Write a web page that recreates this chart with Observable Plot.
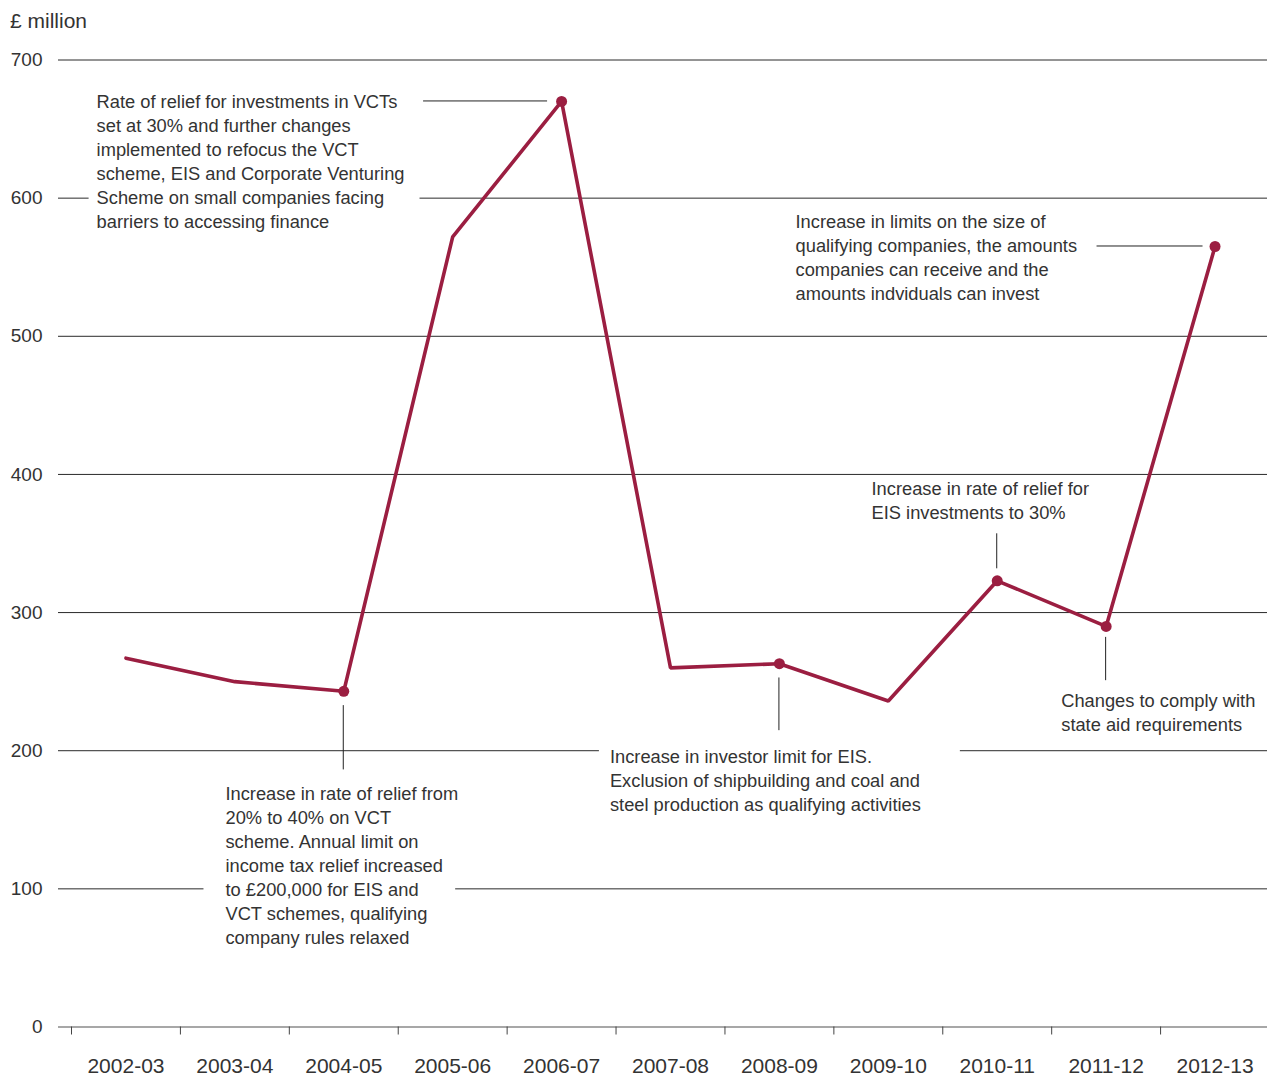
<!DOCTYPE html>
<html>
<head>
<meta charset="utf-8">
<script src="https://cdn.jsdelivr.net/npm/d3@7"></script>
<script src="https://cdn.jsdelivr.net/npm/@observablehq/plot@0.6"></script>
<style>
  html, body { margin: 0; padding: 0; background: #fff; }
  body { font-family: "Liberation Sans", Arial, Helvetica, sans-serif; color: #333; width: 1267px; }
  #title { font-size: 21px; line-height: 20px; padding: 11px 0 0 10px; height: 29px; color: #333; }
</style>
</head>
<body>
<div id="title">£ million</div>
<div id="chart"></div>
<script>
// ---- data ----
const years = ["2002-03", "2003-04", "2004-05", "2005-06", "2006-07", "2007-08", "2008-09", "2009-10", "2010-11", "2011-12", "2012-13"];
const values = [267, 250, 243, 572, 670, 260, 263, 236, 323, 290, 565];
const yTicks = [0, 100, 200, 300, 400, 500, 600, 700];

const noteYears = ["2006-07", "2012-13", "2010-11", "2011-12", "2008-09", "2004-05"];
const noteTexts = [
  "Rate of relief for investments in VCTs\nset at 30% and further changes\nimplemented to refocus the VCT\nscheme, EIS and Corporate Venturing\nScheme on small companies facing\nbarriers to accessing finance",
  "Increase in limits on the size of\nqualifying companies, the amounts\ncompanies can receive and the\namounts indviduals can invest",
  "Increase in rate of relief for\nEIS investments to 30%",
  "Changes to comply with\nstate aid requirements",
  "Increase in investor limit for EIS.\nExclusion of shipbuilding and coal and\nsteel production as qualifying activities",
  "Increase in rate of relief from\n20% to 40% on VCT\nscheme. Annual limit on\nincome tax relief increased\nto £200,000 for EIS and\nVCT schemes, qualifying\ncompany rules relaxed"
];

// ---- layout / style (pixel offsets relative to the annotated point) ----
const noteLayout = [
  { dx: -465, dy: -10.3, leader: [-138, 0, -14, 0], pad: [8, 15] },
  { dx: -419.5, dy: -35.7, leader: [-118, 0, -12, 0], pad: [10, 10] },
  { dx: -125.7, dy: -102.4, leader: [0, -47, 0, -12], pad: [10, 10] },
  { dx: -44.9, dy: 63.3, leader: [0, 11, 0, 54.3], pad: [10, 10] },
  { dx: -169.5, dy: 82, leader: [0, 14.3, 0, 67], pad: [11, 39] },
  { dx: -118.3, dy: 91.6, leader: [0, 14.3, 0, 78.6], pad: [22, -3] }
];
const lineColor = "#9b1e41";
const inkColor = "#333";
const noteFont = 18.3;

const data = years.map((year, i) => ({ i, year, value: values[i] }));
const notes = noteYears.map((y, k) => {
  const i = years.indexOf(y);
  return { i, value: values[i], text: noteTexts[k], ...noteLayout[k] };
});

const chart = Plot.plot({
  width: 1267,
  height: 1037,
  marginTop: 19.5,
  marginBottom: 50.5,
  marginLeft: 58,
  marginRight: 0,
  x: { type: "linear", domain: [-0.5, 10.5], range: [71, 1269] },
  y: { domain: [0, 700] },
  style: { fontFamily: '"Liberation Sans", Arial, Helvetica, sans-serif', fontSize: "18px", color: inkColor, background: "#fff", overflow: "visible" },
  marks: [
    Plot.ruleY(yTicks.filter(d => d > 0), { stroke: "#2a2a2a", strokeWidth: 1 }),
    ...notes.map(n => Plot.text([n], {
      x: "i", y: "value", text: "text",
      dx: n.dx, dy: n.dy,
      textAnchor: "start", lineAnchor: "top",
      lineHeight: 24 / noteFont, fontSize: noteFont,
      fill: inkColor
    })),
    Plot.ruleY([0], { stroke: "#8a8a8a", strokeWidth: 1.6 }),
    Plot.axisY({ ticks: yTicks, tickSize: 0, tickPadding: 16, fontSize: 19, label: null, fill: inkColor }),
    Plot.axisX({ ticks: d3.range(-0.5, 11, 1), tickSize: 8, tickFormat: () => "", label: null, stroke: "#444" }),
    Plot.axisX({ ticks: d3.range(0, 11), tickSize: 0, tickPadding: 31, tickFormat: i => years[i], fontSize: 21, label: null, fill: inkColor }),
    Plot.line(data, { x: "i", y: "value", stroke: lineColor, strokeWidth: 3.6, strokeLinejoin: "miter" }),
    Plot.dot(notes, { x: "i", y: "value", r: 5.5, fill: lineColor, stroke: "none" })
  ]
});

document.getElementById("chart").appendChild(chart);

// white knock-out boxes behind annotation text (gaps in gridlines)
const firstLines = noteTexts.map(t => t.split("\n")[0]);
chart.querySelectorAll("text").forEach(t => {
  const first = t.querySelector("tspan");
  if (!first) return;
  const k = firstLines.indexOf(first.textContent);
  if (k < 0) return;
  const bb = t.getBBox();
  const [pl, pr] = notes[k].pad;
  const r = document.createElementNS("http://www.w3.org/2000/svg", "rect");
  r.setAttribute("x", bb.x - pl);
  r.setAttribute("y", bb.y);
  r.setAttribute("width", bb.width + pl + pr);
  r.setAttribute("height", bb.height);
  r.setAttribute("fill", "#fff");
  r.setAttribute("stroke", "none");
  if (t.hasAttribute("transform")) r.setAttribute("transform", t.getAttribute("transform"));
  t.parentNode.insertBefore(r, t);
});

// leader lines, placed with the chart's own scales
const sx = chart.scale("x"), sy = chart.scale("y");
const lg = d3.select(chart).append("g").attr("aria-label", "leaders");
notes.forEach(n => {
  const px = sx.apply(n.i), py = sy.apply(n.value);
  lg.append("line")
    .attr("x1", px + n.leader[0]).attr("y1", py + n.leader[1])
    .attr("x2", px + n.leader[2]).attr("y2", py + n.leader[3])
    .attr("stroke", "#222").attr("stroke-width", 1);
});
</script>
</body>
</html>
